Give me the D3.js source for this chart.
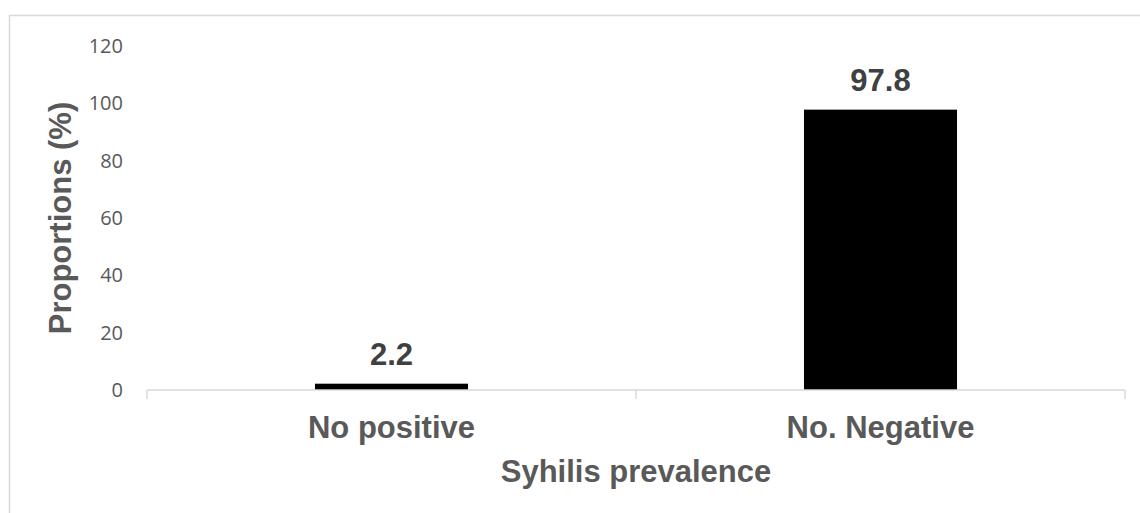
<!DOCTYPE html>
<html>
<head>
<meta charset="utf-8">
<script src="https://cdn.jsdelivr.net/npm/d3@7"></script>
<style>
  html, body { margin: 0; padding: 0; background: #fff; }
  svg { display: block; }
</style>
</head>
<body>
<svg id="chart" width="1140" height="513"></svg>
<script>
// Chart data
const categories = ["No positive", "No. Negative"];
const proportions = [2.2, 97.8];
const yTicks = [0, 20, 40, 60, 80, 100, 120];
const xTitle = "Syhilis prevalence";
const yTitle = "Proportions (%)";

const svg = d3.select("#chart");
const W = 1140, H = 513;

// Outer chart frame
svg.append("rect")
  .attr("x", 9.5).attr("y", 15.5)
  .attr("width", W + 20).attr("height", H + 20)
  .attr("fill", "#fff")
  .attr("stroke", "#d9d9d9").attr("stroke-width", 1.5);

const plot = { left: 147, right: 1125, top: 46, bottom: 390 };

const x = d3.scaleBand()
  .domain(categories)
  .range([plot.left, plot.right])
  .paddingInner(0.687)
  .paddingOuter(0.687 / 2);

const y = d3.scaleLinear()
  .domain([0, 120])
  .range([plot.bottom, plot.top]);

const sansLabel = "'Liberation Sans', Arial, sans-serif";
const sansTick = "'Open Sans', 'Noto Sans', sans-serif";

// Y axis: labels only
const yAxis = svg.append("g")
  .attr("transform", `translate(${plot.left},0)`)
  .call(d3.axisLeft(y).tickValues(yTicks).tickSize(0).tickPadding(24));
yAxis.select(".domain").remove();
yAxis.selectAll("text")
  .attr("fill", "#595959")
  .style("font-family", sansTick)
  .style("font-size", "20px");

// Bars
svg.append("g").selectAll("rect")
  .data(categories)
  .join("rect")
  .attr("x", d => x(d))
  .attr("width", x.bandwidth())
  .attr("y", (d, i) => y(proportions[i]))
  .attr("height", (d, i) => y(0) - y(proportions[i]))
  .attr("fill", "#000");

// X axis baseline with outer and middle ticks
const step = x.step();
const xTickPos = [plot.left, plot.left + step, plot.left + 2 * step];
const xAxis = svg.append("g");
xAxis.append("line")
  .attr("x1", plot.left).attr("x2", plot.right)
  .attr("y1", y(0)).attr("y2", y(0))
  .attr("stroke", "#d9d9d9").attr("stroke-width", 1.5);
xAxis.selectAll("line.tick")
  .data(xTickPos)
  .join("line")
  .attr("class", "tick")
  .attr("x1", d => d).attr("x2", d => d)
  .attr("y1", y(0)).attr("y2", y(0) + 9)
  .attr("stroke", "#d9d9d9").attr("stroke-width", 1.5);

const boldText = sel => sel
  .style("font-family", sansLabel)
  .style("font-weight", "bold")
  .style("font-size", "31px");

// Category labels
svg.append("g").selectAll("text")
  .data(categories)
  .join("text")
  .attr("x", d => x(d) + x.bandwidth() / 2)
  .attr("y", 438)
  .attr("text-anchor", "middle")
  .attr("fill", "#595959")
  .call(boldText)
  .text(d => d);

// Value labels above bars
svg.append("g").selectAll("text")
  .data(categories)
  .join("text")
  .attr("x", d => x(d) + x.bandwidth() / 2)
  .attr("y", (d, i) => y(proportions[i]) - 19)
  .attr("text-anchor", "middle")
  .attr("fill", "#404040")
  .call(boldText)
  .text((d, i) => proportions[i]);

// Axis titles
svg.append("text")
  .attr("x", (plot.left + plot.right) / 2)
  .attr("y", 482)
  .attr("text-anchor", "middle")
  .attr("fill", "#595959")
  .call(boldText)
  .text(xTitle);

svg.append("text")
  .attr("transform", `translate(71,${(plot.top + plot.bottom) / 2}) rotate(-90)`)
  .attr("text-anchor", "middle")
  .attr("fill", "#595959")
  .call(boldText)
  .text(yTitle);
</script>
</body>
</html>
